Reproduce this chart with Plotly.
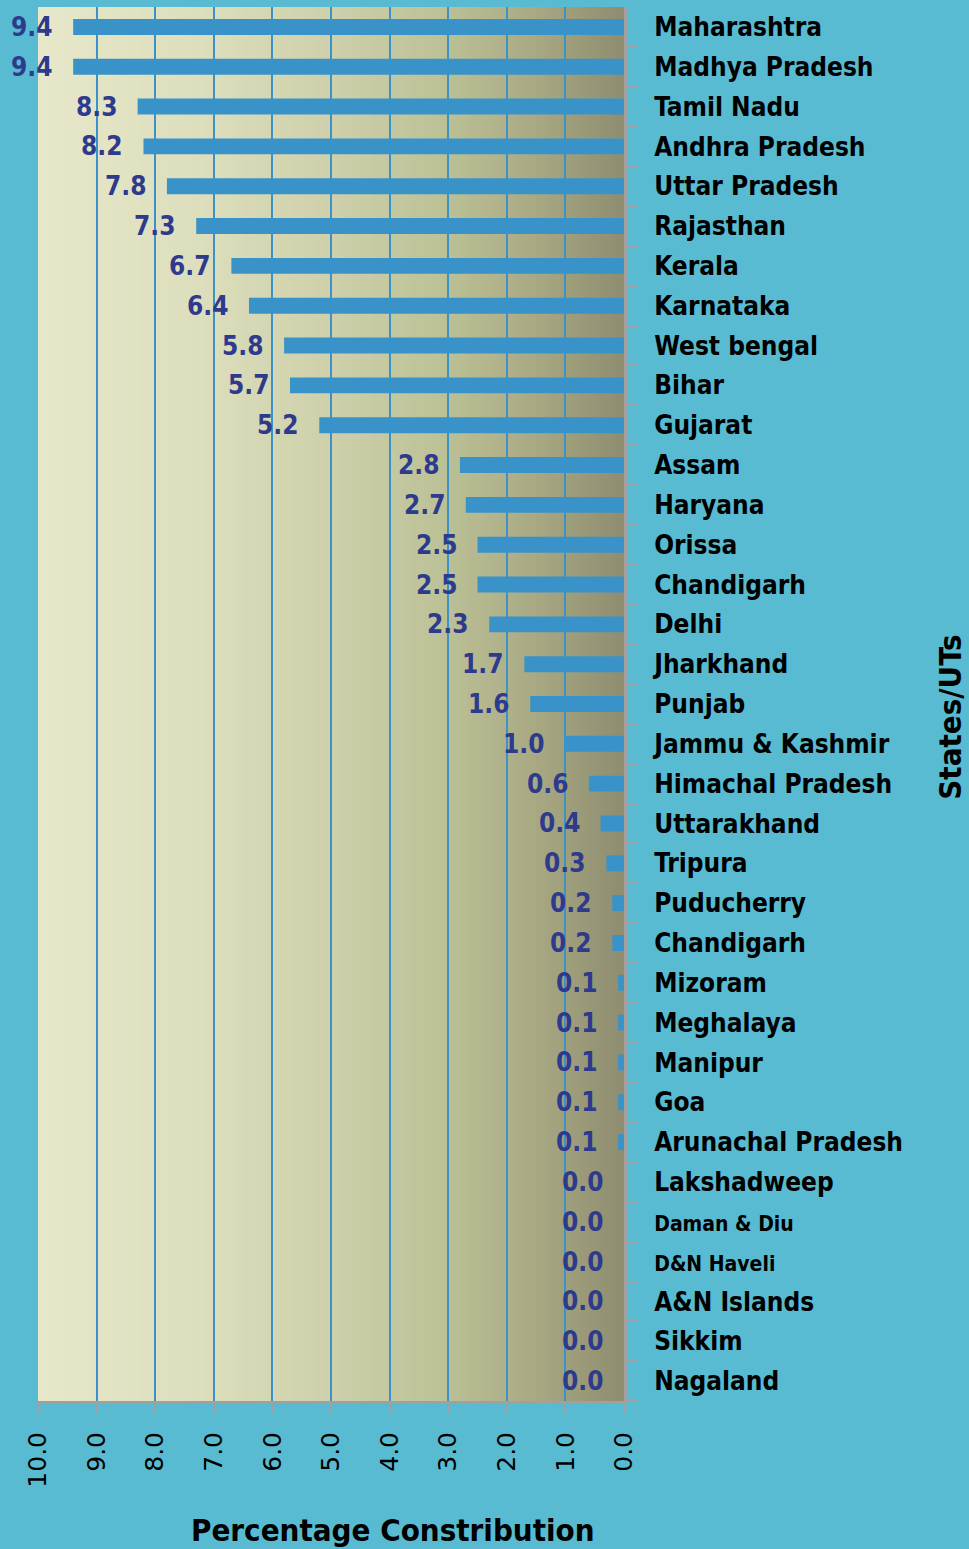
import plotly.graph_objects as go

states = ["Maharashtra", "Madhya Pradesh", "Tamil Nadu", "Andhra Pradesh", "Uttar Pradesh",
          "Rajasthan", "Kerala", "Karnataka", "West bengal", "Bihar", "Gujarat", "Assam",
          "Haryana", "Orissa", "Chandigarh", "Delhi", "Jharkhand", "Punjab", "Jammu & Kashmir",
          "Himachal Pradesh", "Uttarakhand", "Tripura", "Puducherry", "Chandigarh", "Mizoram",
          "Meghalaya", "Manipur", "Goa", "Arunachal Pradesh", "Lakshadweep", "Daman & Diu",
          "D&N Haveli", "A&N Islands", "Sikkim", "Nagaland"]
values = [9.4, 9.4, 8.3, 8.2, 7.8, 7.3, 6.7, 6.4, 5.8, 5.7, 5.2, 2.8, 2.7, 2.5, 2.5, 2.3,
          1.7, 1.6, 1.0, 0.6, 0.4, 0.3, 0.2, 0.2, 0.1, 0.1, 0.1, 0.1, 0.1, 0.0, 0.0, 0.0,
          0.0, 0.0, 0.0]
x_ticks = [0, 1, 2, 3, 4, 5, 6, 7, 8, 9, 10]
small_labels = {"Daman & Diu", "D&N Haveli"}

BAR = "#3993c9"
LABEL = "#2e3a8c"
BG = "#58bbd1"
FONT = "DejaVu Sans Condensed, DejaVu Sans, sans-serif"

pos = list(range(len(states)))
ticktext = [("<span style='font-size:21px'><b>%s</b></span>" % s) if s in small_labels
            else "<b>%s</b>" % s for s in states]

fig = go.Figure()
fig.add_trace(go.Bar(
    x=values, y=pos, orientation="h", width=0.4,
    marker=dict(color=BAR, line=dict(width=0)), hoverinfo="skip"))

# value labels
for p, v in zip(pos, values):
    fig.add_annotation(x=v, y=p, xref="x", yref="y", text="<b>%.1f</b>" % v,
                       showarrow=False, xanchor="right", yanchor="middle", xshift=-19,
                       font=dict(family=FONT, size=26, color=LABEL))

# gradient plot background (strips behind gridlines)
stops = [(10.0, (231, 232, 202)), (7.0, (219, 221, 187)), (5.0, (205, 208, 170)),
         (3.0, (188, 192, 150)), (1.5, (168, 169, 131)), (0.0, (142, 141, 112))]
def col_at(x):
    for (xa, ca), (xb, cb) in zip(stops[:-1], stops[1:]):
        if xb <= x <= xa:
            t = (xa - x) / (xa - xb)
            return "rgb(%d,%d,%d)" % tuple(round(a + (b - a) * t) for a, b in zip(ca, cb))
    return "rgb(%d,%d,%d)" % stops[-1][1]
N = 120
for i in range(N):
    x0 = 10 - 10 * i / N
    x1 = 10 - 10 * (i + 1) / N
    fig.add_shape(type="rect", xref="x", yref="paper", x0=x0, x1=max(x1 - 0.03, 0),
                  y0=0, y1=1, fillcolor=col_at((x0 + x1) / 2), line=dict(width=0), layer="below")

# axis titles
fig.add_annotation(text="<b>Percentage Constribution</b>", xref="paper", yref="paper",
                   x=0.606, y=-0.0925, xanchor="center", yanchor="middle", showarrow=False,
                   font=dict(family=FONT, size=31, color="black"))
fig.add_annotation(text="<b>States/UTs</b>", xref="paper", yref="paper", textangle=-90,
                   x=1.556, y=0.4907, xanchor="center", yanchor="middle", showarrow=False,
                   font=dict(family=FONT, size=31, color="black"))

fig.update_layout(
    width=969, height=1549,
    margin=dict(l=38, r=345, t=7, b=148),
    paper_bgcolor=BG, plot_bgcolor=BG,
    showlegend=False, bargap=0.6,
    font=dict(family=FONT, color="black"),
    xaxis=dict(
        range=[10, 0], tickvals=x_ticks, tickformat=".1f", tickangle=-90,
        showgrid=True, gridcolor=BAR, gridwidth=2, zeroline=False,
        showline=True, linecolor="#a0a0a0", linewidth=3,
        ticks="outside", ticklen=10, tickwidth=2, tickcolor="#a0a0a0",
        tickfont=dict(family="DejaVu Sans, sans-serif", size=25, color="black"),
        ticklabelstandoff=8,
        fixedrange=True),
    yaxis=dict(
        range=[len(states) - 0.5, -0.5], side="right",
        tickvals=pos, ticktext=ticktext, ticks="", showgrid=False, zeroline=False,
        showline=True, linecolor="#a0a0a0", linewidth=3,
        tickfont=dict(family=FONT, size=26, color="black"),
        ticklabelstandoff=22,
        minor=dict(tickvals=[p + 0.5 for p in pos], ticks="outside", ticklen=11,
                   tickwidth=2, tickcolor="#a0a0a0", showgrid=False),
        fixedrange=True),
)

fig.write_html("out.html", config={"displayModeBar": False},
               post_script="document.body.style.margin='0';document.body.style.background='%s';" % BG)
